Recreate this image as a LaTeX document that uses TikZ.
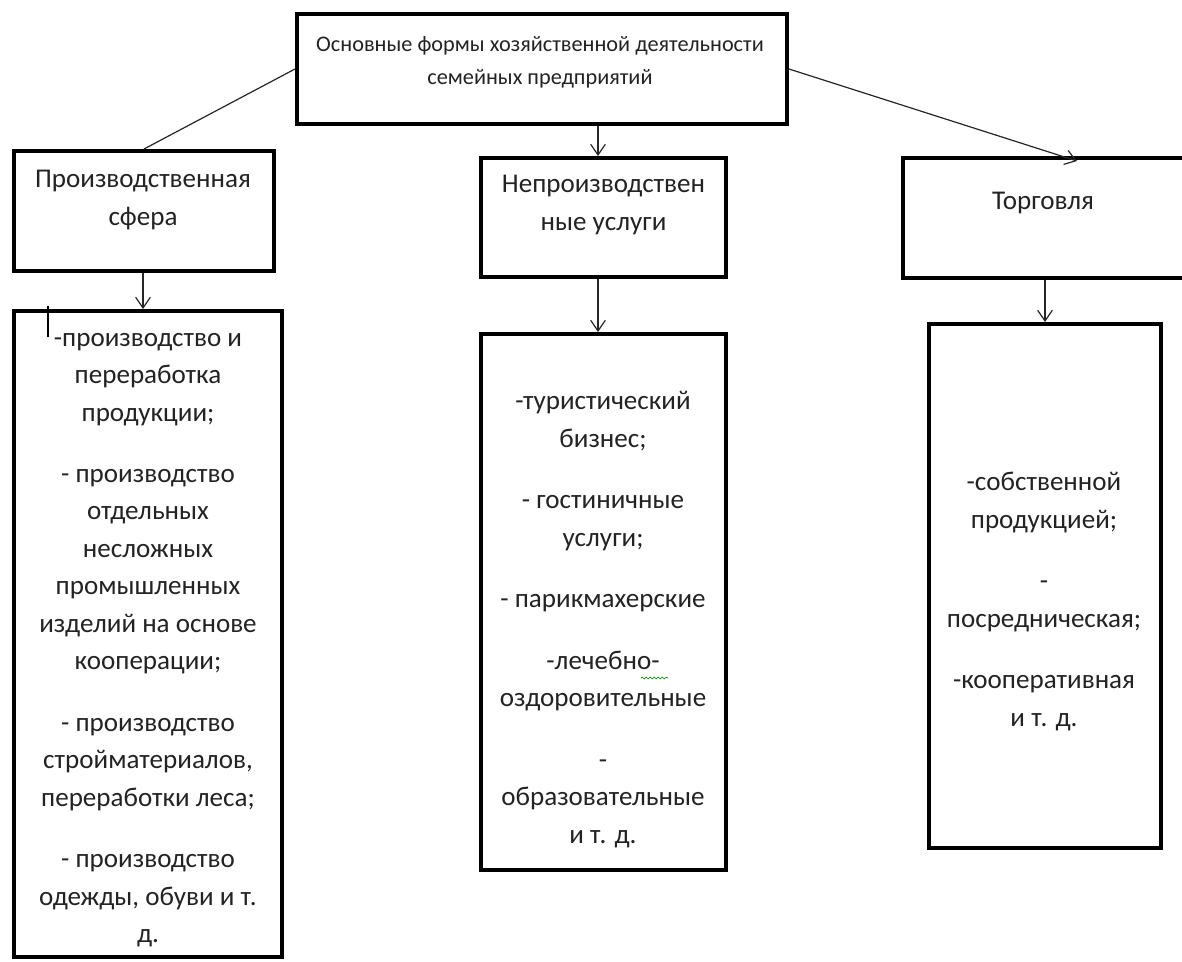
\documentclass[tikz,border=0pt]{standalone}
\usepackage{fontspec}
\setmainfont{Carlito}
\usetikzlibrary{arrows.meta,decorations.pathmorphing}
\definecolor{txt}{RGB}{35,35,35}
\tikzset{
  box/.style={draw=black, line width=3pt, rectangle, inner sep=0pt},
  label/.style={text=txt, align=center, inner sep=0pt, font=\fontsize{20.3}{28.1}\selectfont},
  conn/.style={draw=black!85, line width=0.9pt},
  arr/.style={conn, -{Straight Barb[length=8pt,width=11pt,line width=0.9pt]}}
}
\begin{document}
\begin{tikzpicture}[x=0.75pt,y=-0.75pt]
\clip (0,0) rectangle (1182,961);
\fill[white] (0,0) rectangle (1182,961);
% boxes
\node[box, minimum width={490*0.75pt}, minimum height={110*0.75pt}] (top) at (542,69) {};
\node[box, minimum width={260*0.75pt}, minimum height={120*0.75pt}] (l1) at (144,211) {};
\node[box, minimum width={268*0.75pt}, minimum height={646*0.75pt}] (l2) at (148,634) {};
\node[box, minimum width={245*0.75pt}, minimum height={119*0.75pt}] (m1) at (603.5,217.5) {};
\node[box, minimum width={245*0.75pt}, minimum height={536*0.75pt}] (m2) at (603.5,602) {};
\node[box, minimum width={320*0.75pt}, minimum height={120*0.75pt}] (r1) at (1063,218) {};
\node[box, minimum width={232*0.75pt}, minimum height={524*0.75pt}] (r2) at (1045,586) {};
% texts
\node[label, font=\fontsize{16.7}{24.75}\selectfont] (ttop) at (540,62) {Основные формы хозяйственной деятельности\\семейных предприятий};
\node[label] (tl1) at (143,200) {Производственная\\сфера};
\node[label] (tm1) at (603.5,205) {Непроизводствен\\ные услуги};
\node[label] (tr1) at (1043,203) {Торговля};
\node[label] (tl2) at (148,640) {-производство и\\переработка\\продукции;\\[18pt]
- производство\\отдельных\\несложных\\промышленных\\изделий на основе\\кооперации;\\[18pt]
- производство\\стройматериалов,\\переработки леса;\\[18pt]
- производство\\одежды, обуви и т.\\д.};
\node[label] (tm2) at (603,619.5) {-туристический\\бизнес;\\[18pt]
- гостиничные\\услуги;\\[18pt]
- парикмахерские\\[18pt]
-лечебно-\\оздоровительные\\[18pt]
-\\образовательные\\и т. д.};
\node[label] (tr2) at (1044,601.5) {-собственной\\продукцией;\\[18pt]
-\\посредническая;\\[18pt]
-кооперативная\\и т. д.};
% helper coordinates
\coordinate (mx) at (598,0);
\coordinate (rtip) at (1077,161);
% connectors
\draw[conn] (top.west) -- (l1.north);
\draw[arr] (top.south -| mx) -- (m1.north -| mx);
\draw[arr] (top.east) -- (rtip);
\draw[arr] (l1.south -| 143,0) -- (l2.north -| 143,0);
\draw[arr] (m1.south -| mx) -- (m2.north -| mx);
\draw[arr] (r2.north |- r1.south) -- (r2.north);
% text cursor and spell-check squiggle
\draw[line width=1.6pt] (48,306) -- (48,337);
\draw[green!55!black, line width=0.5pt, decorate, decoration={snake, amplitude=0.7pt, segment length=3pt}] (641,678) -- (668,678);
\end{tikzpicture}
\end{document}
